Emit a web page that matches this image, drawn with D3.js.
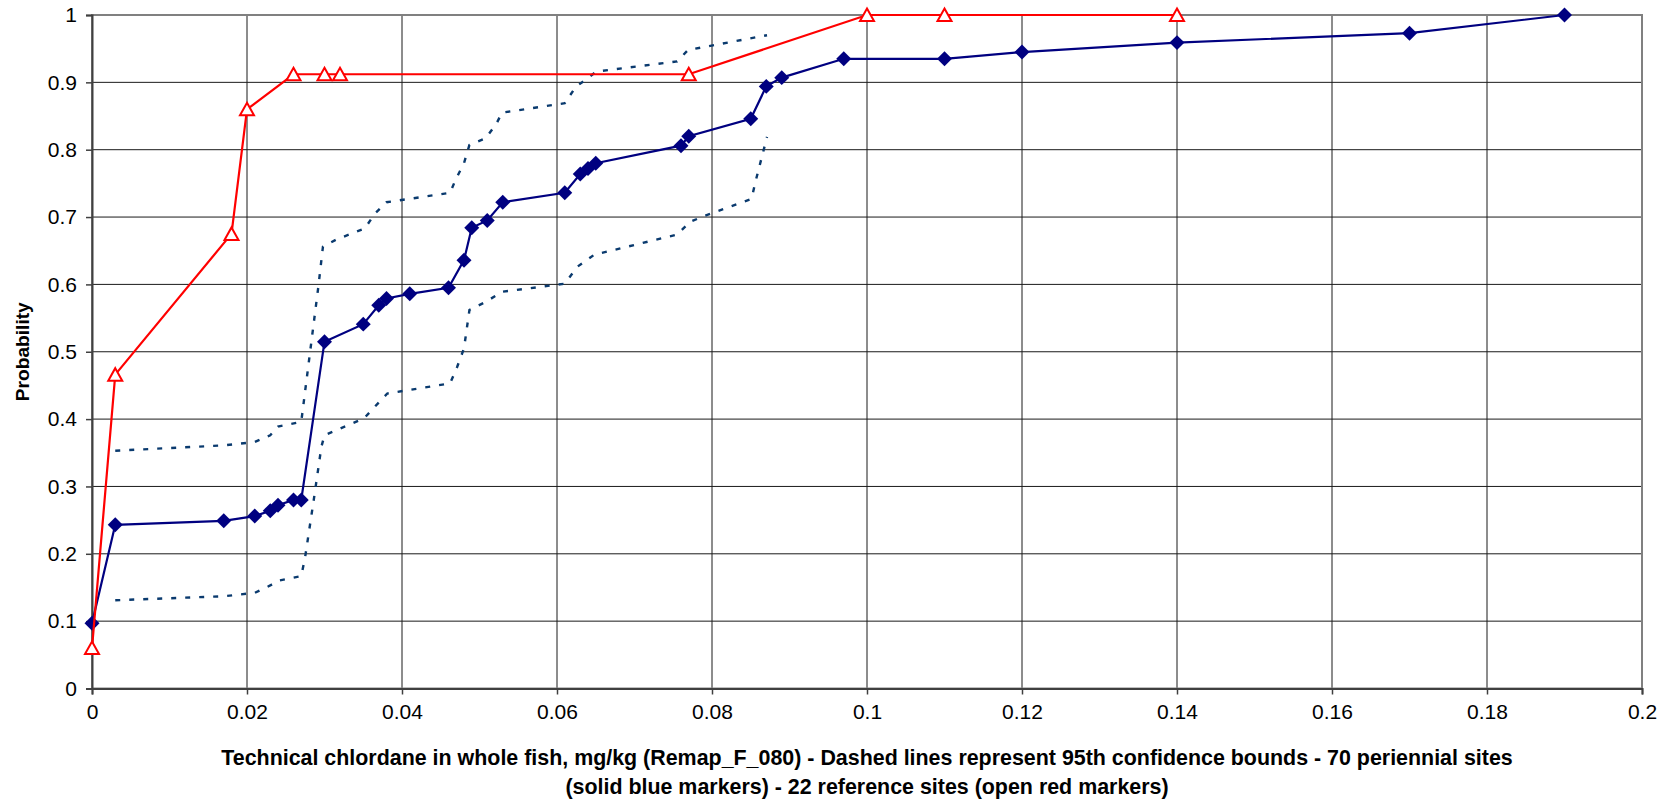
<!DOCTYPE html>
<html>
<head>
<meta charset="utf-8">
<script src="https://cdn.jsdelivr.net/npm/d3@7"></script>
<style>
  html, body { margin: 0; padding: 0; background: #fff; }
  svg { display: block; }
  text { font-family: "Liberation Sans", Arial, sans-serif; }
</style>
</head>
<body>
<svg id="chart" width="1679" height="800"></svg>
<script>
// ---- data ----
const xTicks = [0, 0.02, 0.04, 0.06, 0.08, 0.1, 0.12, 0.14, 0.16, 0.18, 0.2];
const xTickLabels = ["0", "0.02", "0.04", "0.06", "0.08", "0.1", "0.12", "0.14", "0.16", "0.18", "0.2"];
const yTicks = [0, 0.1, 0.2, 0.3, 0.4, 0.5, 0.6, 0.7, 0.8, 0.9, 1];
const yTickLabels = ["0", "0.1", "0.2", "0.3", "0.4", "0.5", "0.6", "0.7", "0.8", "0.9", "1"];

// 70 perennial sites (solid blue diamonds)
const perennialX = [0, 0.003, 0.017, 0.021, 0.023, 0.024, 0.026, 0.027, 0.030, 0.035, 0.037, 0.038, 0.041, 0.046, 0.048, 0.049, 0.051, 0.053, 0.061, 0.063, 0.064, 0.065, 0.076, 0.077, 0.085, 0.087, 0.089, 0.097, 0.11, 0.12, 0.14, 0.17, 0.19];
const perennialY = [0.097, 0.243, 0.249, 0.256, 0.264, 0.272, 0.280, 0.280, 0.515, 0.541, 0.569, 0.579, 0.586, 0.595, 0.636, 0.684, 0.695, 0.722, 0.736, 0.764, 0.772, 0.780, 0.806, 0.820, 0.846, 0.894, 0.907, 0.935, 0.935, 0.945, 0.959, 0.973, 1.0];

// 22 reference sites (open red triangles)
const referenceX = [0, 0.003, 0.018, 0.020, 0.026, 0.030, 0.032, 0.077, 0.10, 0.11, 0.14];
const referenceY = [0.06, 0.466, 0.675, 0.860, 0.912, 0.912, 0.912, 0.912, 1.0, 1.0, 1.0];

// 95% confidence bounds (dashed)
const upperX = [0.003, 0.017, 0.021, 0.023, 0.024, 0.027, 0.0292, 0.0298, 0.0316, 0.0352, 0.0365, 0.038, 0.0462, 0.0469, 0.048, 0.0487, 0.0508, 0.0522, 0.0529, 0.061, 0.0624, 0.0651, 0.0755, 0.0769, 0.0871];
const upperY = [0.353, 0.361, 0.366, 0.376, 0.389, 0.396, 0.596, 0.656, 0.667, 0.683, 0.705, 0.722, 0.736, 0.755, 0.780, 0.807, 0.817, 0.839, 0.855, 0.869, 0.893, 0.916, 0.931, 0.948, 0.970];
const lowerX = [0.003, 0.017, 0.021, 0.023, 0.024, 0.027, 0.0275, 0.0286, 0.0296, 0.030, 0.0351, 0.0363, 0.0381, 0.0462, 0.0471, 0.048, 0.0487, 0.0508, 0.0529, 0.061, 0.0626, 0.0648, 0.0755, 0.0772, 0.0791, 0.0851, 0.0856, 0.0871];
const lowerY = [0.131, 0.137, 0.142, 0.153, 0.160, 0.167, 0.195, 0.279, 0.359, 0.376, 0.401, 0.416, 0.438, 0.453, 0.477, 0.505, 0.562, 0.574, 0.589, 0.601, 0.626, 0.644, 0.674, 0.693, 0.702, 0.727, 0.752, 0.819];

const yTitle = "Probability";
const xTitleLines = [
  "Technical chlordane in whole fish, mg/kg (Remap_F_080) - Dashed lines represent 95th confidence bounds - 70 periennial sites",
  "(solid blue markers) - 22 reference sites (open red markers)"
];

// ---- layout ----
const svg = d3.select("#chart");
const plot = { left: 92, right: 1642, top: 15, bottom: 688.5 };
const x = d3.scaleLinear().domain([0, 0.2]).range([plot.left, plot.right]);
const y = d3.scaleLinear().domain([0, 1]).range([plot.bottom, plot.top]);

const zip = (xs, ys) => xs.map((v, i) => [v, ys[i]]);

// grid
const grid = svg.append("g");
grid.selectAll("line.h").data(yTicks.slice(1)).join("line")
  .attr("x1", plot.left).attr("x2", plot.right)
  .attr("y1", d => y(d)).attr("y2", d => y(d))
  .attr("stroke", "#1a1a1a").attr("stroke-width", 1);
grid.selectAll("line.v").data(xTicks.slice(1)).join("line")
  .attr("y1", plot.top).attr("y2", plot.bottom)
  .attr("x1", d => x(d)).attr("x2", d => x(d))
  .attr("stroke", "#1a1a1a").attr("stroke-width", 1);

// plot frame
svg.append("rect")
  .attr("x", plot.left).attr("y", plot.top)
  .attr("width", plot.right - plot.left).attr("height", plot.bottom - plot.top)
  .attr("fill", "none").attr("stroke", "#808080").attr("stroke-width", 2);

// axes
const yAxis = d3.axisLeft(y).tickValues(yTicks).tickFormat((d, i) => yTickLabels[i]).tickSize(6).tickPadding(9);
const xAxis = d3.axisBottom(x).tickValues(xTicks).tickFormat((d, i) => xTickLabels[i]).tickSize(6).tickPadding(10);

const gy = svg.append("g").attr("transform", `translate(${plot.left},0)`).call(yAxis);
const gx = svg.append("g").attr("transform", `translate(0,${plot.bottom})`).call(xAxis);
[gx, gy].forEach(g => {
  g.select(".domain").attr("stroke", "#404040").attr("stroke-width", 2);
  g.selectAll(".tick line").attr("stroke", "#404040").attr("stroke-width", 1.5);
  g.selectAll(".tick text").attr("fill", "#000").style("font-size", "21px")
    .style("font-family", "'Liberation Sans', Arial, sans-serif");
});

// dashed confidence bounds
const line = d3.line().x(d => x(d[0])).y(d => y(d[1]));
[zip(upperX, upperY), zip(lowerX, lowerY)].forEach(pts => {
  svg.append("path").attr("d", line(pts))
    .attr("fill", "none").attr("stroke", "#0a3a6e").attr("stroke-width", 2.4)
    .attr("stroke-dasharray", "5,9");
});

// perennial series
const perennial = zip(perennialX, perennialY);
svg.append("path").attr("d", line(perennial))
  .attr("fill", "none").attr("stroke", "#000080").attr("stroke-width", 2.2);
svg.append("g").selectAll("path").data(perennial).join("path")
  .attr("d", d3.symbol().type(d3.symbolSquare).size(112)())
  .attr("transform", d => `translate(${x(d[0])},${y(d[1])}) rotate(45)`)
  .attr("fill", "#000080");

// reference series
const reference = zip(referenceX, referenceY);
svg.append("path").attr("d", line(reference))
  .attr("fill", "none").attr("stroke", "#ff0000").attr("stroke-width", 2.2);
svg.append("g").selectAll("path").data(reference).join("path")
  .attr("d", "M0,-6.5 L7,6 L-7,6 Z")
  .attr("transform", d => `translate(${x(d[0])},${y(d[1])})`)
  .attr("fill", "#fff").attr("stroke", "#ff0000").attr("stroke-width", 2);

// titles
const yt = svg.append("text")
  .attr("transform", `translate(29,${(plot.top + plot.bottom) / 2}) rotate(-90)`)
  .attr("text-anchor", "middle")
  .style("font-size", "20px").style("font-weight", "bold")
  .text(yTitle);
// fit y-title to the reference's measured length (~99px)
const ytLen = yt.node().getComputedTextLength();
yt.style("font-size", (20 * 99 / ytLen).toFixed(2) + "px");

const cx = (plot.left + plot.right) / 2;
const xt = svg.append("g").selectAll("text").data(xTitleLines).join("text")
  .attr("x", cx).attr("y", (d, i) => 765 + i * 29)
  .attr("text-anchor", "middle")
  .style("font-size", "20px").style("font-weight", "bold")
  .text(d => d);
// fit first line to the reference's measured width (~1292px)
const l1 = xt.nodes()[0].getComputedTextLength();
xt.style("font-size", (20 * 1292 / l1).toFixed(2) + "px");
</script>
</body>
</html>
